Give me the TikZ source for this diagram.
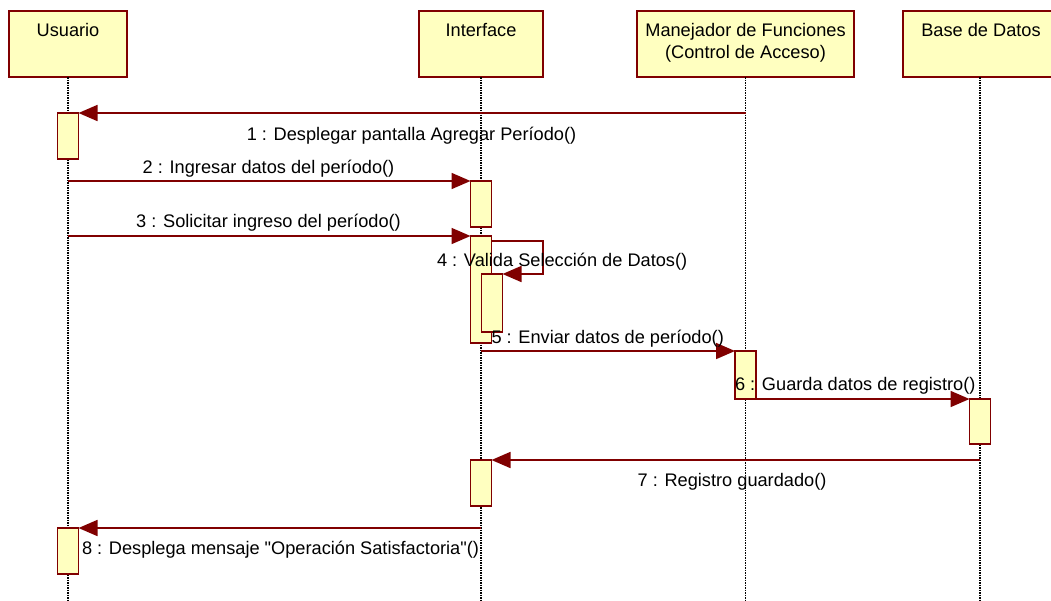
\documentclass[tikz,border=0pt]{standalone}
\usepackage{fontspec}
\setmainfont{Liberation Sans}[Ligatures=TeXOff]
\usetikzlibrary{arrows.meta}
\definecolor{umlred}{RGB}{128,0,0}
\definecolor{umlfill}{RGB}{255,255,192}
\begin{document}
\begin{tikzpicture}[x=1pt,y=-1pt,
  every node/.style={font=\fontsize{18.2}{22}\selectfont, inner sep=0pt, outer sep=0pt},
  head/.style={draw=umlred, fill=umlfill, line width=1.7pt, anchor=north west, minimum height=66pt},
  htxt/.style={align=center, text=black, anchor=base},
  act/.style={draw=umlred, fill=umlfill, line width=1.7pt, anchor=north, minimum width=21pt},
  life/.style={line width=1.1pt, dash pattern=on 1.5pt off 1pt},
  msg/.style={draw=umlred, line width=1.7pt, -{Triangle[length=19pt,width=16pt]}},
  lbl/.style={text=black, anchor=base},
  lblw/.style={text=black, anchor=base west}
]
\useasboundingbox (0,0) rectangle (1051,600);
\clip (0,0) rectangle (1051,600);
\fill[white] (0,0) rectangle (1051,600);

% headers
\node[head, minimum width=118pt] (usr) at (9,11) {};
\node[head, minimum width=124pt] (ifc) at (419,11) {};
\node[head, minimum width=217pt] (mgr) at (637,11) {};
\node[head, minimum width=154pt] (bd) at (903,11) {};
\node[htxt] (usrT) at (68,36.5) {Usuario};
\node[htxt] (ifcT) at (481,36.5) {Interface};
\node[htxt] (mgrT) at (745.5,58.5) {Manejador de Funciones\\(Control de Acceso)};
\node[htxt] (bdT) at (981,36.5) {Base de Datos};

% lifelines
\coordinate (usrE) at (68,600);
\coordinate (ifcE) at (481,600);
\coordinate (mgrE) at (745.5,600);
\coordinate (bdE) at (980,600);
\draw[life] (usr.south) -- (usrE);
\draw[life] (ifc.south) -- (ifcE);
\draw[life] (mgr.south) -- (mgrE);
\draw[life] (bd.south) -- (bdE);

% activations
\node[act, minimum height=46pt] (a1) at (68,113) {};
\node[act, minimum height=46pt] (a2) at (481,181) {};
\node[act, minimum height=107pt] (a3) at (481,236) {};
\node[act, minimum height=58pt] (a4) at (492,274) {};
\node[act, minimum height=48pt] (a5) at (745.5,351) {};
\node[act, minimum height=45pt] (a6) at (980,399) {};
\node[act, minimum height=46pt] (a7) at (481,460) {};
\node[act, minimum height=46pt] (a8) at (68,528) {};

% messages
\draw[msg] (mgr.south |- a1.north) -- (a1.north east);
\draw[msg] (usr.south |- a2.north) -- (a2.north west);
\draw[msg] (usr.south |- a3.north) -- (a3.north west);
\draw[msg] ([yshift=-5pt]a3.north east) -- ++(51.5,0) |- (a4.north east);
\draw[msg] (ifc.south |- a5.north) -- (a5.north west);
\draw[msg] (a5.south east) -- (a6.north west);
\draw[msg] (bd.south |- a7.north) -- (a7.north east);
\draw[msg] (ifc.south |- a8.north) -- (a8.north east);

% labels
\node[lbl] (l1) at (411.5,140) {1 : Desplegar pantalla Agregar Período()};
\node[lbl] (l2) at (268.5,173) {2 : Ingresar datos del período()};
\node[lbl] (l3) at (268.5,227) {3 : Solicitar ingreso del período()};
\node[lblw] (l4) at (437,266) {4 : Valida Selección de Datos()};
\node[lblw] (l5) at (491.5,343) {5 : Enviar datos de período()};
\node[lblw] (l6) at (735,390) {6 : Guarda datos de registro()};
\node[lbl] (l7) at (732,486) {7 : Registro guardado()};
\node[lblw] (l8) at (82,554) {8 : Desplega mensaje "Operación Satisfactoria"()};
\end{tikzpicture}
\end{document}
